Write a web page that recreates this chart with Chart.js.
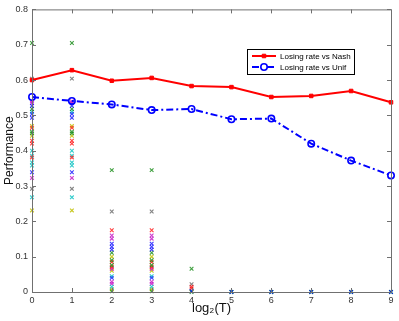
<!DOCTYPE html>
<html>
<head>
<meta charset="utf-8">
<script src="https://cdn.jsdelivr.net/npm/chart.js@4.4.1/dist/chart.umd.min.js"></script>
<style>
  html, body { margin: 0; padding: 0; background: #fff; }
  #wrap { width: 399px; height: 321px; }
</style>
</head>
<body>
<div id="wrap"><canvas id="myChart" width="399" height="321"></canvas></div>
<script>
// log2(T) on the x axis
const logT = [0, 1, 2, 3, 4, 5, 6, 7, 8, 9];
const nashRate = [0.600, 0.628, 0.598, 0.606, 0.583, 0.580, 0.552, 0.555, 0.569, 0.537];
const unifRate = [0.552, 0.541, 0.531, 0.515, 0.518, 0.489, 0.491, 0.420, 0.372, 0.330];

const yTicks = [0, 0.1, 0.2, 0.3, 0.4, 0.5, 0.6, 0.7, 0.8];

// single runs, per colour: values at log2(T)=0 and 1 (same at both)
const blueEarly = [0.527, 0.504, 0.493, 0.339];
const greenEarly = [0.705, 0.518, 0.454, 0.449];
const redEarly = [0.465, 0.428, 0.420, 0.381];
const cyanEarly = [0.510, 0.400, 0.386, 0.367, 0.358, 0.268];
const magentaEarly = [0.540, 0.535, 0.323];
const yellowEarly = [0.470, 0.442, 0.231];
const grayEarly = [0.604, 0.292];

// values at log2(T)=2 and 3
const blueMid = [0.137, 0.128, 0.120, 0.040];
const greenMid = [0.345, 0.111, 0.090, 0.076, 0.002];
const redMid = [0.175, 0.085, 0.071];
const cyanMid = [0.045, 0.015];
const magentaMid = [0.160, 0.151, 0.065, 0.029, 0.023];
const yellowMid = [0.100, 0.060, 0.008];
const grayMid = [0.228];

// values at log2(T)=4
const blueAt4 = [0.002];
const greenAt4 = [0.066, 0.0];
const redAt4 = [0.015, 0.010];
const cyanAt4 = [0.003];
const magentaAt4 = [];
const yellowAt4 = [];
const grayAt4 = [0.022];

// values at log2(T)=5..9
const blueLate = [0];
const greenLate = [0];
const cyanLate = [0];

const runColors = {
    blue: 'rgba(0,0,255,0.75)',
    green: 'rgba(0,128,0,0.75)',
    red: 'rgba(255,0,0,0.75)',
    cyan: 'rgba(0,191,191,0.8)',
    magenta: 'rgba(191,0,191,0.75)',
    yellow: 'rgba(191,191,0,0.85)',
    gray: 'rgba(64,64,64,0.65)'
};

function runPoints(early, mid, at4, late) {
    let pts = [];
    for (let x of [0, 1]) for (let v of early) pts.push({x: x, y: v});
    for (let x of [2, 3]) for (let v of mid) pts.push({x: x, y: v});
    for (let v of at4) pts.push({x: 4, y: v});
    for (let x of [5, 6, 7, 8, 9]) for (let v of late) pts.push({x: x, y: v});
    return pts;
}

const runSets = [
    ['blue', blueEarly, blueMid, blueAt4, blueLate],
    ['green', greenEarly, greenMid, greenAt4, greenLate],
    ['red', redEarly, redMid, redAt4, []],
    ['cyan', cyanEarly, cyanMid, cyanAt4, cyanLate],
    ['magenta', magentaEarly, magentaMid, magentaAt4, []],
    ['yellow', yellowEarly, yellowMid, yellowAt4, []],
    ['gray', grayEarly, grayMid, grayAt4, []]
];

let datasets = [
    {
        label: 'Losing rate vs Nash',
        data: logT.map((x, i) => ({x: x, y: nashRate[i]})),
        showLine: true,
        clip: false,
        borderColor: '#ff0000',
        backgroundColor: '#ff0000',
        borderWidth: 2,
        pointStyle: 'rect',
        pointRadius: 2.5,
        pointBorderWidth: 1
    },
    {
        label: 'Losing rate vs Unif',
        data: logT.map((x, i) => ({x: x, y: unifRate[i]})),
        showLine: true,
        clip: false,
        borderColor: '#0000ff',
        backgroundColor: 'rgba(255,255,255,0)',
        borderWidth: 2,
        borderDash: [7, 3, 2, 3],
        pointStyle: 'circle',
        pointRadius: 3.2,
        pointBorderWidth: 1.6
    }
];

for (let s of runSets) {
    datasets.push({
        label: s[0],
        data: runPoints(s[1], s[2], s[3], s[4]),
        showLine: false,
        clip: false,
        borderColor: runColors[s[0]],
        backgroundColor: runColors[s[0]],
        pointStyle: 'crossRot',
        pointRadius: 2.6,
        pointBorderWidth: 1.1
    });
}

const axisColor = '#707070';

const framePlugin = {
    id: 'frame',
    afterDraw(chart) {
        const ctx = chart.ctx;
        const a = chart.chartArea;
        const xs = chart.scales.x;
        const ys = chart.scales.y;
        ctx.save();
        ctx.strokeStyle = axisColor;
        ctx.lineWidth = 1;
        ctx.beginPath();
        ctx.rect(a.left + 0.5, a.top + 0.5, a.right - a.left, a.bottom - a.top);
        for (let t of xs.ticks) {
            let px = Math.round(xs.getPixelForValue(t.value)) + 0.5;
            ctx.moveTo(px, a.bottom); ctx.lineTo(px, a.bottom - 4);
            ctx.moveTo(px, a.top); ctx.lineTo(px, a.top + 4);
        }
        for (let t of ys.ticks) {
            let py = Math.round(ys.getPixelForValue(t.value)) + 0.5;
            ctx.moveTo(a.left, py); ctx.lineTo(a.left + 4, py);
            ctx.moveTo(a.right, py); ctx.lineTo(a.right - 4, py);
        }
        ctx.stroke();

        // legend box inside the plot
        const bx = 247, by = 49, bw = 107, bh = 25;
        ctx.fillStyle = '#fff';
        ctx.fillRect(bx, by, bw, bh);
        ctx.strokeStyle = '#000';
        ctx.strokeRect(bx + 0.5, by + 0.5, bw, bh);
        ctx.font = '8px "Liberation Sans", Arial, sans-serif';
        ctx.textBaseline = 'middle';
        chart.data.datasets.slice(0, 2).forEach((ds, i) => {
            const ly = by + 7 + i * 11;
            ctx.save();
            ctx.strokeStyle = ds.borderColor;
            ctx.fillStyle = i === 0 ? ds.backgroundColor : '#fff';
            ctx.lineWidth = 2;
            ctx.setLineDash(ds.borderDash || []);
            ctx.beginPath();
            ctx.moveTo(bx + 5, ly); ctx.lineTo(bx + 29, ly);
            ctx.stroke();
            ctx.setLineDash([]);
            ctx.lineWidth = ds.pointBorderWidth;
            Chart.helpers.drawPoint(ctx, {
                pointStyle: ds.pointStyle, radius: ds.pointRadius, borderWidth: ds.pointBorderWidth
            }, bx + 17, ly);
            ctx.restore();
            ctx.fillStyle = '#000';
            ctx.fillText(ds.label, bx + 33, ly + 0.5);
        });
        ctx.restore();
    }
};

const tickFont = { family: '"Liberation Sans", Arial, sans-serif', size: 9 };

new Chart(document.getElementById('myChart'), {
    type: 'scatter',
    data: { datasets: datasets },
    options: {
        responsive: false,
        animation: false,
        devicePixelRatio: 1,
        layout: { padding: { top: 8, right: 8, left: 0, bottom: 0 } },
        plugins: {
            legend: { display: false },
            tooltip: { enabled: false }
        },
        scales: {
            x: {
                type: 'linear',
                min: 0, max: 9,
                afterBuildTicks: (scale) => { scale.ticks = logT.map(v => ({value: v})); },
                afterFit: (scale) => { scale.height = 29; },
                grid: { display: false, drawTicks: false },
                border: { display: false },
                ticks: { font: tickFont, color: '#333', padding: 3, maxRotation: 0 },
                title: {
                    display: true, text: 'log₂(T)', color: '#111',
                    font: { family: '"Liberation Sans", Arial, sans-serif', size: 13 },
                    padding: { top: 0, bottom: 5 }
                }
            },
            y: {
                type: 'linear',
                min: 0, max: 0.8,
                afterBuildTicks: (scale) => { scale.ticks = yTicks.map(v => ({value: v})); },
                afterFit: (scale) => { scale.width = 32; },
                grid: { display: false, drawTicks: false },
                border: { display: false },
                ticks: { font: tickFont, color: '#333', padding: 4, callback: (v) => String(Math.round(v * 10) / 10) },
                title: {
                    display: true, text: 'Performance', color: '#111',
                    font: { family: '"Liberation Sans", Arial, sans-serif', size: 12 },
                    padding: { top: 2, bottom: 0 }
                }
            }
        }
    },
    plugins: [framePlugin]
});
</script>
</body>
</html>
